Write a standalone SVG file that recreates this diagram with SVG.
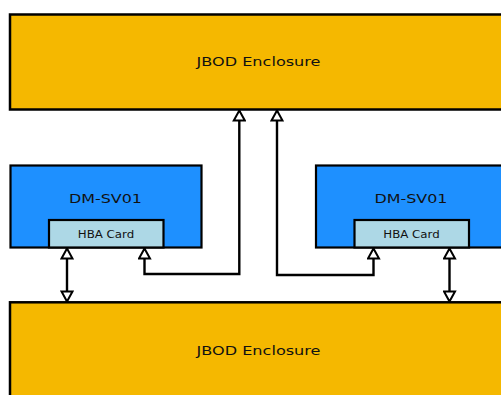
<svg xmlns="http://www.w3.org/2000/svg" width="501" height="395" viewBox="0 0 501 395">
<style>
.jbod{fill:#F5B800;stroke:#000;stroke-width:2.5}
.srv{fill:#1E90FF;stroke:#000;stroke-width:2.2}
.hba{fill:#ADD8E6;stroke:#000;stroke-width:2.2}
.t{font-family:"DejaVu Sans",sans-serif;fill:#111;text-anchor:middle}
.c{fill:none;stroke:#000;stroke-width:2.4;marker-end:url(#ah)}
.d{marker-start:url(#ah)}
</style>
<defs>
<marker id="ah" markerUnits="userSpaceOnUse" viewBox="0 0 13 14" markerWidth="13" markerHeight="14" refX="11.5" refY="7" orient="auto-start-reverse">
<path d="M1.5,1.5 L11.5,7 L1.5,12.5 Z" fill="#fff" stroke="#000" stroke-width="2"/>
</marker>
</defs>
<g id="jbod-top">
<rect class="jbod" x="10" y="14.5" width="520" height="95"/>
<text class="t" x="258.5" y="66" font-size="12" textLength="124" lengthAdjust="spacingAndGlyphs">JBOD Enclosure</text>
</g>
<g id="jbod-bottom">
<rect class="jbod" x="10" y="302.3" width="520" height="120"/>
<text class="t" x="258.5" y="355" font-size="12" textLength="124" lengthAdjust="spacingAndGlyphs">JBOD Enclosure</text>
</g>
<g id="server-left">
<rect class="srv" x="10.5" y="165.5" width="191" height="82"/>
<text class="t" x="105.5" y="203.3" font-size="11.5" textLength="73" lengthAdjust="spacingAndGlyphs">DM-SV01</text>
</g>
<g id="hba-left">
<rect class="hba" x="49" y="220" width="114.5" height="27.5"/>
<text class="t" x="106" y="237.5" font-size="10" textLength="56.5" lengthAdjust="spacingAndGlyphs">HBA Card</text>
</g>
<g id="server-right">
<rect class="srv" x="316" y="165.5" width="220" height="82"/>
<text class="t" x="411" y="203.3" font-size="11.5" textLength="73" lengthAdjust="spacingAndGlyphs">DM-SV01</text>
</g>
<g id="hba-right">
<rect class="hba" x="354.5" y="220" width="114.5" height="27.5"/>
<text class="t" x="411.5" y="237.5" font-size="10" textLength="56.5" lengthAdjust="spacingAndGlyphs">HBA Card</text>
</g>
<g id="connectors">
<path class="c d" d="M67,248.5 L67,301.5"/>
<path class="c d" d="M144.5,248.5 L144.5,274 L239.3,274 L239.3,110.5"/>
<path class="c d" d="M277,110.5 L277,275 L373.5,275 L373.5,248.5"/>
<path class="c d" d="M449.5,248.5 L449.5,301.5"/>
</g>
</svg>
